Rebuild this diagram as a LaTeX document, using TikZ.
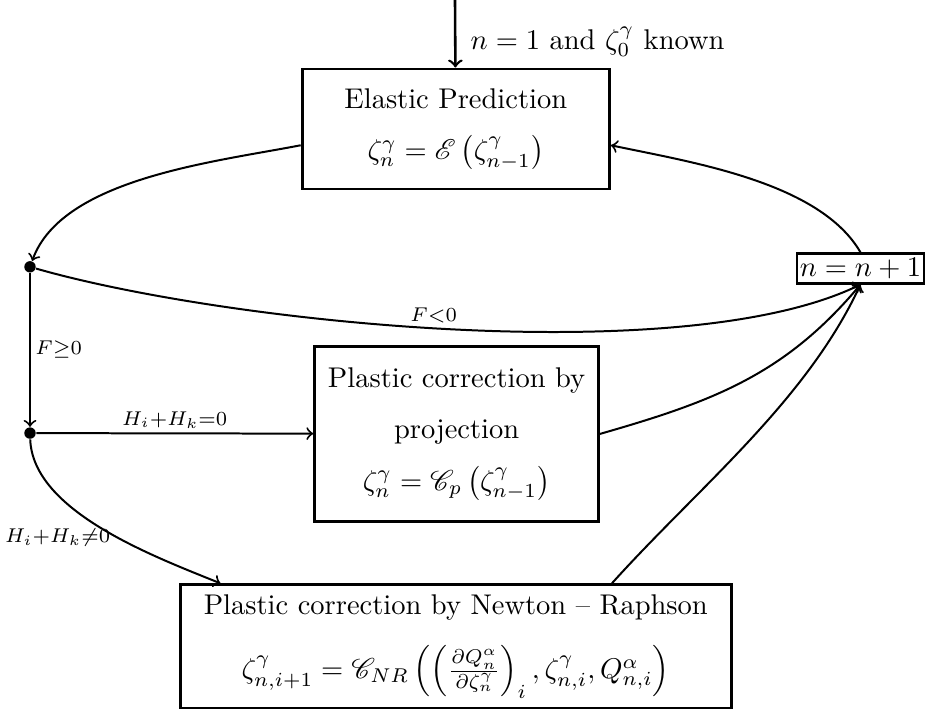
\documentclass[tikz,border=0pt]{standalone}
\usepackage{amsmath,amssymb}
\usepackage{mathrsfs}
\usetikzlibrary{positioning}

\begin{document}
\begin{tikzpicture}[
  >=to,
  stage/.style={draw, line width=1pt, align=center, inner sep=2pt},
  dot/.style={circle, fill, inner sep=0pt, minimum size=4pt},
  arr/.style={->, line width=0.7pt},
  cond/.style={inner sep=1.5pt}
]
\useasboundingbox (0,0) rectangle (11.43,-8.77);
% ---------------- stages ----------------
\node[stage, minimum width=3.79cm, minimum height=1.48cm] (elast) at (5.62,-1.59)
  {Elastic Prediction\\[6pt] $\zeta_n^\gamma=\mathscr{E}\left(\zeta_{n-1}^\gamma\right)$};
\node[stage, minimum width=3.50cm, minimum height=2.15cm] (proj) at (5.63,-5.35)
  {Plastic correction by\\[6pt] projection\\[6pt] $\zeta_n^\gamma=\mathscr{C}_p\left(\zeta_{n-1}^\gamma\right)$};
\node[stage, minimum width=6.79cm, minimum height=1.52cm] (newton) at (5.62,-7.97)
  {Plastic correction by Newton -- Raphson\\[8pt]
   $\zeta_{n,i+1}^\gamma=\mathscr{C}_{NR}\left(\left(\frac{\partial Q_n^\alpha}{\partial\zeta_n^\gamma}\right)_i,\zeta_{n,i}^\gamma,Q_{n,i}^\alpha\right)$};
\node[stage, inner xsep=1pt, inner ysep=1.5pt] (incr) at (10.61,-3.31) {$n=n+1$};
\node[dot] (chk) at (0.37,-3.29) {};
\node[dot] (sel) at (0.37,-5.34) {};
\coordinate (start) at (5.61,0);

% ---------------- connectors ----------------
\draw[->, line width=0.9pt] (start) -- node[right, inner sep=5pt, yshift=-1mm]{$n=1$ and $\zeta_0^\gamma$ known} (elast);
\draw[arr] (elast.186) to[out=191, in=70, looseness=0.77] (chk);
\draw[arr] (incr.north) to[out=120, in=-12, looseness=0.77] (elast.354);
\draw[arr] (chk) to[out=-16, in=206, looseness=0.61] node[pos=0.48, above, cond]{$\scriptstyle F<0$} (incr.south);
\draw[arr] (chk) -- node[right, cond]{$\scriptstyle F\geq0$} (sel);
\draw[arr] (sel) -- node[above, cond]{$\scriptstyle H_i+H_k=0$} (proj);
\draw[arr] (sel) to[out=-88, in=158, looseness=0.77] node[pos=0.5, anchor=east, xshift=2.4mm, yshift=-1.2mm]{$\scriptstyle H_i+H_k\neq0$} (newton.165);
\draw[arr] (proj.east) to[out=16, in=230, looseness=1.0] (incr.south);
\draw[arr] (newton.22) to[out=48, in=245, looseness=0.85] (incr.south);
\end{tikzpicture}
\end{document}
